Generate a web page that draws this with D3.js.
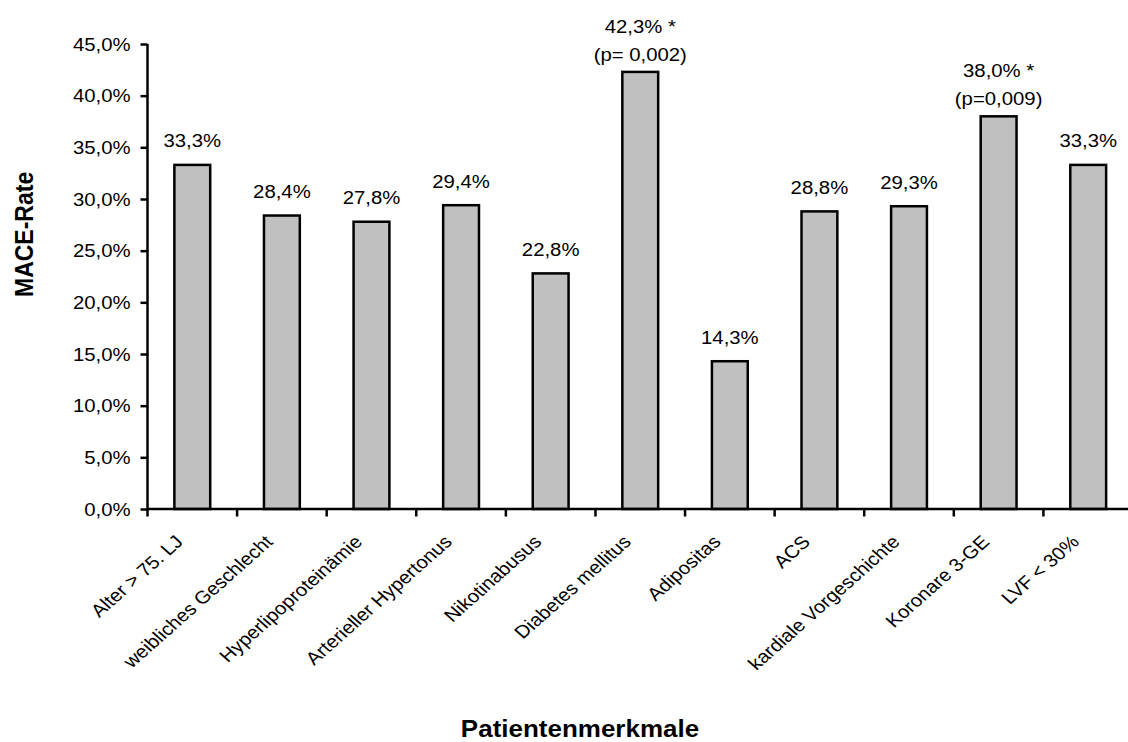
<!DOCTYPE html>
<html>
<head>
<meta charset="utf-8">
<script src="https://cdn.jsdelivr.net/npm/d3@7"></script>
<style>
  html, body { margin: 0; padding: 0; background: #fff; }
  svg { display: block; }
  text { font-family: "Liberation Sans", Arial, sans-serif; fill: #000; }
</style>
</head>
<body>
<svg id="chart" width="1128" height="742"></svg>
<script>
// Patient characteristics and their MACE rate (%)
const categories = [
  "Alter > 75. LJ", "weibliches Geschlecht", "Hyperlipoproteinämie",
  "Arterieller Hypertonus", "Nikotinabusus", "Diabetes mellitus",
  "Adipositas", "ACS", "kardiale Vorgeschichte", "Koronare 3-GE", "LVF < 30%"
];
const maceRate = [33.3, 28.4, 27.8, 29.4, 22.8, 42.3, 14.3, 28.8, 29.3, 38.0, 33.3];
// significance marker and p-value (empty where not significant)
const significance = ["", "", "", "", "", "*", "", "", "", "*", ""];
const pValues = ["", "", "", "", "", "(p= 0,002)", "", "", "", "(p=0,009)", ""];
const yTicks = [0, 5, 10, 15, 20, 25, 30, 35, 40, 45];

const fmt = v => v.toFixed(1).replace(".", ",") + "%";
const SX = 1.13;          // horizontal text stretch of the original artwork
const FONT = 18;

const svg = d3.select("#chart");
const x0 = 147.5, x1 = 1133, yTop = 44, yBase = 509;

const x = d3.scaleBand().domain(categories).range([x0, x1])
  .paddingInner(0.6).paddingOuter(0.3);
const y = d3.scaleLinear().domain([0, 45]).range([yBase, yTop]);
const step = x.step();

// bars
svg.append("g").selectAll("rect")
  .data(categories)
  .join("rect")
  .attr("x", (d) => x(d))
  .attr("width", x.bandwidth())
  .attr("y", (d, i) => y(maceRate[i]))
  .attr("height", (d, i) => y(0) - y(maceRate[i]))
  .attr("fill", "#c0c0c0")
  .attr("stroke", "#000")
  .attr("stroke-width", 2.5);

// y axis
const yAxis = svg.append("g").attr("transform", `translate(${x0},0)`)
  .call(d3.axisLeft(y).tickValues(yTicks).tickSize(7).tickFormat(fmt));
yAxis.select(".domain").attr("d", `M0,${yTop}V${yBase}`).attr("stroke-width", 2.5);
yAxis.selectAll(".tick line").attr("stroke-width", 2.5);
yAxis.selectAll(".tick text")
  .attr("x", null).attr("dy", null)
  .attr("text-anchor", "end")
  .attr("dominant-baseline", "central")
  .attr("font-size", FONT)
  .attr("transform", `translate(-17,0) scale(${SX},1)`);

// x axis: line with ticks at category boundaries
const xg = svg.append("g");
xg.append("line")
  .attr("x1", x0).attr("x2", 1128 + 10)
  .attr("y1", yBase).attr("y2", yBase)
  .attr("stroke", "#000").attr("stroke-width", 2.5);
xg.selectAll("line.tk")
  .data(d3.range(categories.length + 1))
  .join("line").attr("class", "tk")
  .attr("x1", i => x0 + i * step).attr("x2", i => x0 + i * step)
  .attr("y1", yBase).attr("y2", yBase + 7.5)
  .attr("stroke", "#000").attr("stroke-width", 2.5);

// rotated category labels
xg.selectAll("text")
  .data(categories)
  .join("text")
  .attr("text-anchor", "end")
  .attr("font-size", FONT)
  .attr("transform", d =>
    `translate(${x(d) + x.bandwidth() / 2 - 8},${yBase + 34}) scale(${SX},1) rotate(-45)`)
  .text(d => d);

// value labels above bars
const lab = svg.append("g");
categories.forEach((c, i) => {
  const cx = x(c) + x.bandwidth() / 2;
  const top = y(maceRate[i]);
  const main = fmt(maceRate[i]) + (significance[i] ? " " + significance[i] : "");
  if (pValues[i]) {
    lab.append("text").attr("text-anchor", "middle").attr("font-size", FONT)
      .attr("transform", `translate(${cx},${top - 39}) scale(${SX},1)`).text(main);
    lab.append("text").attr("text-anchor", "middle").attr("font-size", FONT)
      .attr("transform", `translate(${cx},${top - 11}) scale(${SX},1)`).text(pValues[i]);
  } else {
    lab.append("text").attr("text-anchor", "middle").attr("font-size", FONT)
      .attr("transform", `translate(${cx},${top - 17.5}) scale(${SX},1)`).text(main);
  }
});

// axis titles
svg.append("text")
  .attr("text-anchor", "middle").attr("font-size", 23).attr("font-weight", "bold")
  .attr("transform", `translate(580,737) scale(${SX},1)`)
  .text("Patientenmerkmale");
svg.append("text")
  .attr("text-anchor", "start").attr("font-size", 23).attr("font-weight", "bold")
  .attr("transform", `translate(33,297) scale(${SX},1) rotate(-90)`)
  .text("MACE-Rate");
</script>
</body>
</html>
